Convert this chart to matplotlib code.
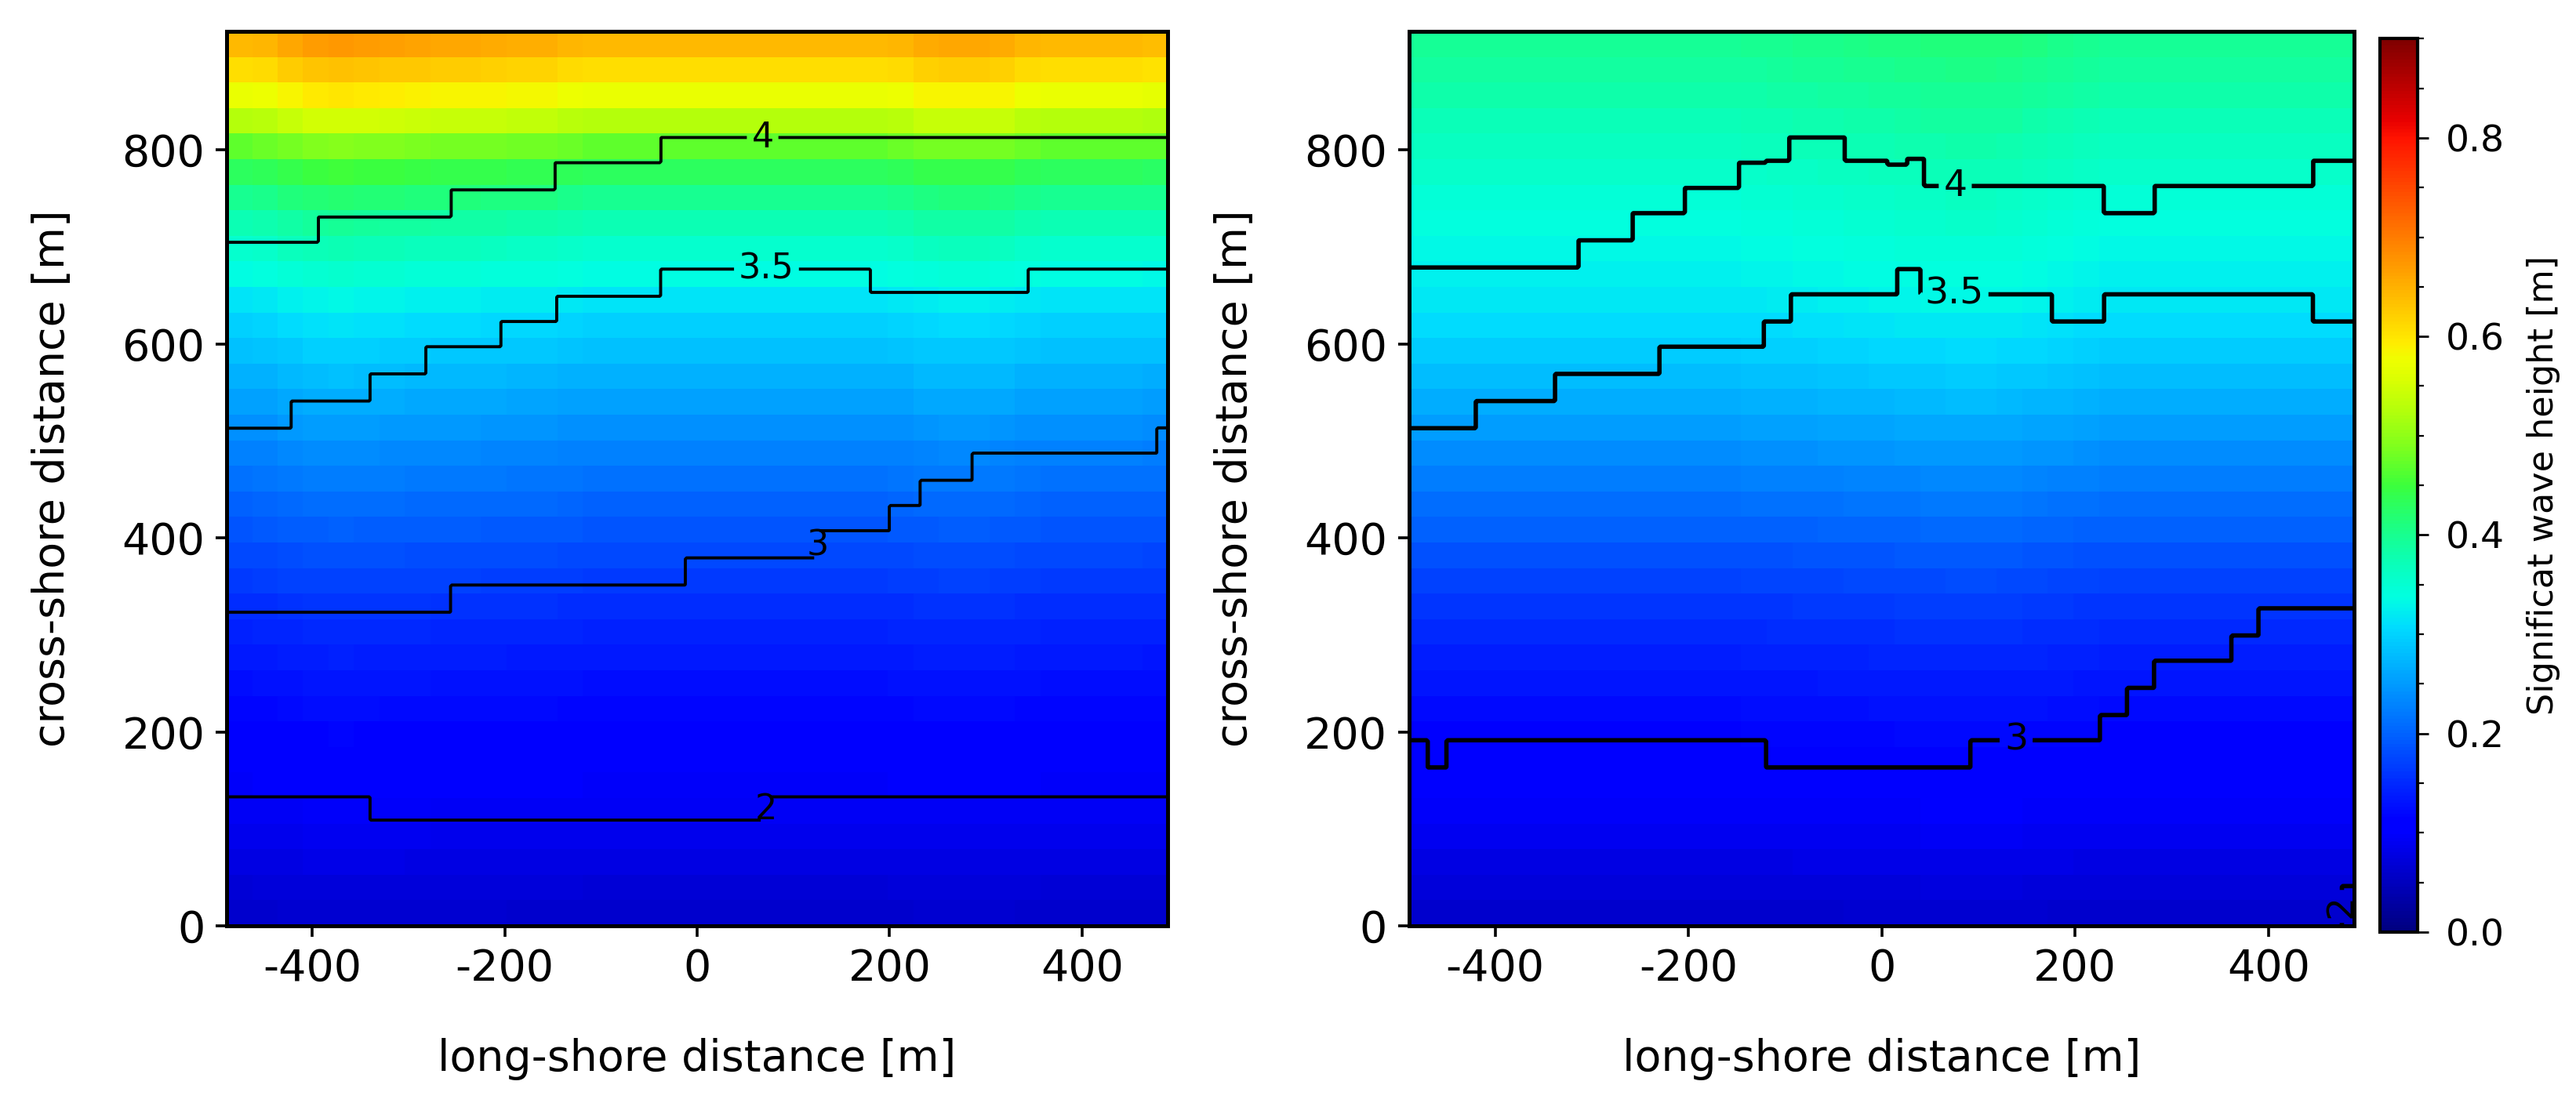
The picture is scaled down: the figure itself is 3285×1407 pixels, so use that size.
"""
Significant wave height with depth contours, two scenarios side by side
"""

import numpy as np
import matplotlib

matplotlib.use("Agg")
import matplotlib.pyplot as plt
from matplotlib.colors import ListedColormap, rgb_to_hsv, hsv_to_rgb
from matplotlib.ticker import MultipleLocator

plt.rcParams["axes.unicode_minus"] = False
plt.rcParams["font.family"] = ["DejaVu Sans"]

# model domain [m]
X_LIM = (-489, 489)
Y_LIM = (0, 922)
N_COLS = 37
N_ROWS = 35

# cross-shore Hs profile, bottom row -> top row [m]
HS_LEFT = [0.062, 0.070, 0.078, 0.085, 0.092, 0.098, 0.104, 0.111, 0.118, 0.126,
           0.134, 0.143, 0.153, 0.164, 0.176, 0.188, 0.200, 0.213, 0.226, 0.240,
           0.254, 0.268, 0.283, 0.298, 0.315, 0.335, 0.355, 0.375, 0.400, 0.430,
           0.470, 0.525, 0.570, 0.605, 0.640]
HS_RIGHT = [0.062, 0.071, 0.080, 0.088, 0.095, 0.102, 0.109, 0.116, 0.123, 0.131,
            0.140, 0.150, 0.160, 0.172, 0.184, 0.197, 0.210, 0.224, 0.238, 0.252,
            0.266, 0.280, 0.294, 0.306, 0.318, 0.326, 0.333, 0.340, 0.348, 0.356,
            0.364, 0.372, 0.380, 0.388, 0.396]

# relative long-shore variation, one value per column (west -> east)
LAT_LEFT = [0.0, 0.01, 0.03, 0.045, 0.05, 0.045, 0.04, 0.035, 0.03, 0.03,
            0.025, 0.02, 0.02, 0.01, 0.0, 0.0, 0.0, 0.0, 0.0, 0.0,
            0.0, 0.0, 0.0, 0.0, 0.0, 0.0, 0.01, 0.025, 0.03, 0.03,
            0.025, 0.01, 0.0, 0.0, 0.0, 0.0, -0.005]
LAT_RIGHT = [0.0, 0.0, 0.0, 0.0, 0.0, 0.0, 0.0, 0.0, 0.0, 0.0,
             0.0, 0.0, 0.0, 0.005, 0.01, 0.015, 0.02, 0.025, 0.03, 0.035,
             0.04, 0.045, 0.045, 0.04, 0.03, 0.02, 0.01, 0.0, 0.0, 0.0,
             0.0, 0.0, 0.0, 0.0, 0.0, 0.0, 0.0]

# depth contours: long-shore step positions and cross-shore position of each run
DEPTH_LEVELS = [2, 3, 3.5, 4]

LEFT_2_X = [-340, 72]
LEFT_2_Y = [132, 109, 132]
LEFT_3_X = [-257, -13, 125, 200, 231, 285, 477]
LEFT_3_Y = [322, 350, 378, 406, 433, 459, 487, 512]
LEFT_35_X = [-422, -340, -282, -204, -146, -39, 180, 343]
LEFT_35_Y = [512, 541, 568, 596, 623, 649, 676, 652, 677]
LEFT_4_X = [-395, -257, -148, -39]
LEFT_4_Y = [705, 731, 759, 787, 813]

RIGHT_2_X = [476]
RIGHT_2_Y = [-10, 40]
RIGHT_3_X = [-470, -450, -120, 92, 226, 254, 281, 362, 390]
RIGHT_3_Y = [190, 163, 190, 163, 190, 217, 244, 272, 299, 326]
RIGHT_35_X = [-420, -338, -230, -122, -94, 16, 39, 176, 230, 446]
RIGHT_35_Y = [513, 540, 568, 596, 623, 650, 677, 650, 623, 650, 623]
RIGHT_4_X = [-314, -259, -205, -148, -120, -97, -39, 5, 25, 43, 230, 281, 445]
RIGHT_4_Y = [679, 707, 734, 760, 786, 788, 813, 788, 785, 790, 762, 735, 762, 789]

# label anchors (x, y) for each contour label
LEFT_LABELS = [(80, 120), (130, 392), (72, 676), (68, 812)]
RIGHT_LABELS = [(478, 20), (139, 190), (75, 650), (76, 762)]


def vivid_jet():
    # jet with the greens pushed a little, like the printed figure
    rgb = plt.get_cmap("jet")(np.linspace(0, 1, 256))[:, :3]
    hsv = rgb_to_hsv(rgb)
    hsv[:, 1] = 1 - (1 - hsv[:, 1]) ** 2
    return ListedColormap(hsv_to_rgb(hsv))


def step_line(xs, ys, x):
    return np.asarray(ys)[np.searchsorted(xs, x)]


def depth_field(lines):
    x = np.arange(X_LIM[0], X_LIM[1] + 1, 2.0)
    y = np.arange(Y_LIM[0], Y_LIM[1] + 1, 2.0)
    X, Y = np.meshgrid(x, y)
    d = np.full(X.shape, 1.5)
    # region values sit between the contour levels
    for (xs, ys), inc in zip(lines, [1.0, 0.75, 0.5, 0.75]):
        d += inc * (Y > step_line(xs, ys, X))
    return X, Y, d


def draw_panel(ax, cmap, profile, lat, lines, label_pos, lw, label_size):
    x_edges = np.linspace(X_LIM[0], X_LIM[1], N_COLS + 1)
    y_edges = np.linspace(Y_LIM[0], Y_LIM[1], N_ROWS + 1)
    hs = np.outer(profile, 1 + np.asarray(lat))
    mesh = ax.pcolormesh(x_edges, y_edges, hs, cmap=cmap, vmin=0, vmax=0.9,
                         shading="flat")

    X, Y, d = depth_field(lines)
    cs = ax.contour(X, Y, d, levels=DEPTH_LEVELS, colors="k", linewidths=lw)
    labels = ax.clabel(cs, fmt=lambda v: f"{v:g}", fontsize=label_size,
                       manual=label_pos, inline=True, inline_spacing=6)
    for t in labels:
        t.set_rotation(90 if t.get_text() == "2" and t.get_position()[0] > 450 else 0)

    ax.set_xlim(*X_LIM)
    ax.set_ylim(*Y_LIM)
    ax.set_xticks([-400, -200, 0, 200, 400])
    ax.set_yticks([0, 200, 400, 600, 800])
    ax.tick_params(labelsize=20, length=5, width=1.3, pad=5)
    for s in ax.spines.values():
        s.set_linewidth(1.8)
    ax.set_xlabel("long-shore distance [m]", fontsize=20, labelpad=22)
    ax.set_ylabel("cross-shore distance [m]", fontsize=20, labelpad=22)
    return mesh


fig = plt.figure(figsize=(16.425, 7.035), dpi=200)
ax1 = fig.add_axes([0.088, 0.1606, 0.3653, 0.8109])
ax2 = fig.add_axes([0.547, 0.1606, 0.367, 0.8109])
cax = fig.add_axes([0.9239, 0.155, 0.0146, 0.810])

cmap = vivid_jet()
left_lines = [(LEFT_2_X, LEFT_2_Y), (LEFT_3_X, LEFT_3_Y),
              (LEFT_35_X, LEFT_35_Y), (LEFT_4_X, LEFT_4_Y)]
right_lines = [(RIGHT_2_X, RIGHT_2_Y), (RIGHT_3_X, RIGHT_3_Y),
               (RIGHT_35_X, RIGHT_35_Y), (RIGHT_4_X, RIGHT_4_Y)]

draw_panel(ax1, cmap, HS_LEFT, LAT_LEFT, left_lines, LEFT_LABELS, 1.4, 16)
mesh = draw_panel(ax2, cmap, HS_RIGHT, LAT_RIGHT, right_lines, RIGHT_LABELS, 2.0, 17)

cb = fig.colorbar(mesh, cax=cax, ticks=[0.0, 0.2, 0.4, 0.6, 0.8])
cb.ax.yaxis.set_minor_locator(MultipleLocator(0.05))
cb.ax.tick_params(which="major", labelsize=17, length=5, width=1.0, pad=8)
cb.ax.tick_params(which="minor", length=3, width=0.8)
cb.outline.set_linewidth(1.5)
cb.set_label("Significat wave height [m]", fontsize=16, labelpad=10)

fig.savefig("out.png", dpi=200)
